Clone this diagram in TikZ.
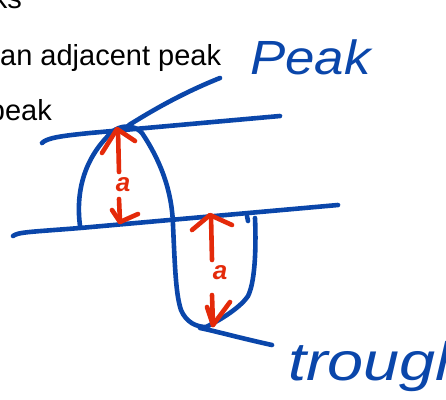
\documentclass[tikz,border=0pt]{standalone}
\usepackage{fontspec}
\setmainfont{Liberation Sans}
\definecolor{penblue}{HTML}{0A46AA}
\definecolor{penred}{HTML}{E42A0A}
\tikzset{
  bluepen/.style={draw=penblue, line width=4.6pt, line cap=round, line join=round},
  redpen/.style={draw=penred, line width=4.6pt, line cap=round, line join=round},
  printed/.style={inner sep=0pt, font=\fontsize{29}{34}\selectfont, text=black},
  scrawl/.style={inner sep=0pt, text=penblue, font=\itshape},
  rednote/.style={inner sep=0pt, text=penred, font=\bfseries\itshape\fontsize{26}{30}\selectfont},
}
\begin{document}
\begin{tikzpicture}[x=1pt,y=-1pt]
\useasboundingbox (0,0) rectangle (446,399);
\clip (0,0) rectangle (446,399);

% printed lines of text
\node[printed, anchor=base east] (t1) at (22,8) {ks};
\node[printed, anchor=base west] (t2) at (0,65) {an adjacent peak};
\node[printed, anchor=base east] (t3) at (52,120) {peak};

% handwritten labels
\node[scrawl, anchor=base west, font=\itshape\fontsize{48}{52}\selectfont] (peaklbl) at (250,74) {\scalebox{1.1}[1]{Peak}};
\node[scrawl, anchor=base west, font=\itshape\fontsize{54}{60}\selectfont] (troughlbl) at (288,380) {\scalebox{1.2}[1]{trough}};

% crest line and midline
\draw[bluepen] (42,143) .. controls (47,138) and (60,136) .. (90,133) -- (280,116);
\draw[bluepen] (13,236) .. controls (18,232) and (30,232) .. (80,228) -- (338,205);

% pointer to the crest
\draw[bluepen] (129,125) .. controls (150,112) and (180,94) .. (220,78);

% the wave: crest, then trough
\draw[bluepen] (80,226) .. controls (76,195) and (82,160) .. (112,132)
  .. controls (120,125) and (134,124) .. (142,133)
  .. controls (160,160) and (172,190) .. (173,225)
  .. controls (175,270) and (176,295) .. (181,310)
  .. controls (186,322) and (196,327) .. (206,327)
  .. controls (220,320) and (240,308) .. (248,296)
  .. controls (256,280) and (256,240) .. (255,218);
\draw[bluepen] (247,216) -- (248,221);

% pointer from the trough
\draw[bluepen] (200,328) .. controls (215,331) and (240,338) .. (272,345);

% amplitude above the midline
\draw[redpen] (102,153) -- (117,129) -- (135,141);
\draw[redpen] (118,130) -- (119,172);
\node[rednote] (a1) at (123,185) {a};
\draw[redpen] (119,199) -- (120,222);
\draw[redpen] (112,210) -- (120,222) -- (138,214);

% amplitude below the midline
\draw[redpen] (192,230) -- (210,215) -- (232,225);
\draw[redpen] (211,216) -- (212,260);
\node[rednote] (a2) at (220,273) {a};
\draw[redpen] (212,295) -- (213,325);
\draw[redpen] (207,307) -- (213,325) -- (230,302);
\end{tikzpicture}
\end{document}
